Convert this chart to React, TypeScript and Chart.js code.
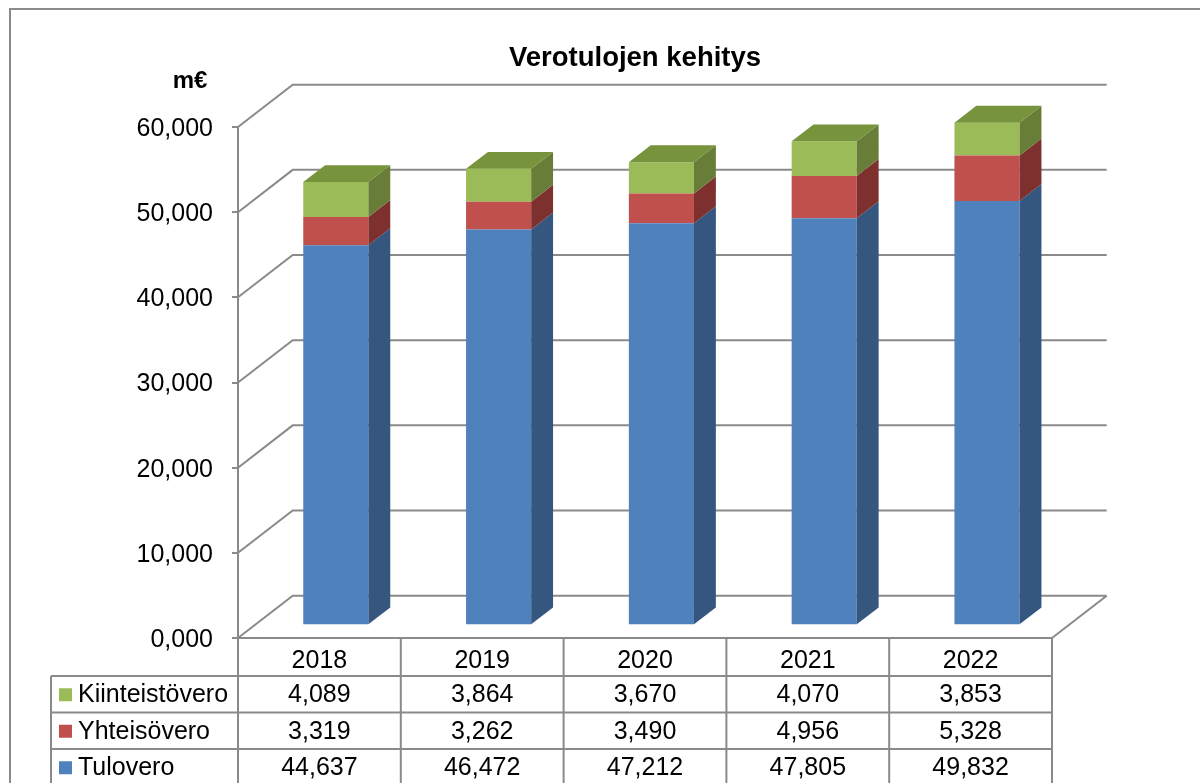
import React, { useEffect, useRef } from "react";
import { Chart, registerables } from "chart.js";

Chart.register(...registerables);

// ---- data ----
const categories = ["2018", "2019", "2020", "2021", "2022"];
const tulovero = [44.637, 46.472, 47.212, 47.805, 49.832];
const yhteisovero = [3.319, 3.262, 3.49, 4.956, 5.328];
const kiinteistovero = [4.089, 3.864, 3.67, 4.07, 3.853];
const seriesNames = ["Tulovero", "Yhteisövero", "Kiinteistövero"];
const yTicks = [0, 10, 20, 30, 40, 50, 60];
const chartTitle = "Verotulojen kehitys";
const unitLabel = "m€";

// ---- styles ----
const FONT = "'Liberation Sans', Arial, sans-serif";
const FRONT = ["#4F81BD", "#C0504D", "#9BBB59"];
const SIDE = ["#34567F", "#7D302E", "#687E38"];
const TOPC = ["#4270A8", "#A04340", "#77933C"];
const GRID = "#8a8a8a";
const DX = 54.7;
const DY = 42.3;
const BAR_FRONT = 0.3;
const BAR_DEPTH = 0.4;
const TEXT_SIZE = 25;

const fmt = (v: number) => v.toFixed(3).replace(".", ",");

const threeD = {
  id: "threeD",
  beforeDraw(chart: any) {
    const { ctx } = chart;
    ctx.save();
    ctx.fillStyle = "#fff";
    ctx.fillRect(0, 0, chart.width, chart.height);
    ctx.strokeStyle = GRID;
    ctx.lineWidth = 2;
    ctx.strokeRect(10, 9, chart.width + 100, chart.height + 100);
    ctx.fillStyle = "#000";
    ctx.textAlign = "center";
    ctx.textBaseline = "middle";
    ctx.font = `bold 27.5px ${FONT}`;
    ctx.fillText(chartTitle, 635, 58);
    ctx.font = `bold 24px ${FONT}`;
    ctx.fillText(unitLabel, 190, 81);
    ctx.restore();
  },
  beforeDatasetsDraw(chart: any) {
    const { ctx, chartArea: a } = chart;
    const y = chart.scales.y;
    ctx.save();
    ctx.strokeStyle = GRID;
    ctx.lineWidth = 2;
    ctx.beginPath();
    for (const v of yTicks) {
      const py = y.getPixelForValue(v);
      ctx.moveTo(a.left, py);
      ctx.lineTo(a.left + DX, py - DY);
      ctx.lineTo(a.right + DX, py - DY);
    }
    ctx.moveTo(a.right, a.bottom);
    ctx.lineTo(a.right + DX, a.bottom - DY);
    ctx.stroke();
    ctx.restore();
    ctx.save();
    ctx.translate(BAR_FRONT * DX, -BAR_FRONT * DY);
  },
  afterDatasetsDraw(chart: any) {
    const { ctx } = chart;
    ctx.restore();
    const ox = BAR_FRONT * DX;
    const oy = -BAR_FRONT * DY;
    const sx = BAR_DEPTH * DX;
    const sy = BAR_DEPTH * DY;
    const n = chart.data.datasets.length;
    ctx.save();
    chart.data.datasets.forEach((_ds: any, di: number) => {
      const meta = chart.getDatasetMeta(di);
      meta.data.forEach((bar: any) => {
        const { x, y, base, width } = bar.getProps(["x", "y", "base", "width"], true);
        const l = x - width / 2 + ox;
        const r = x + width / 2 + ox;
        const t = y + oy;
        const b = base + oy;
        ctx.fillStyle = SIDE[di];
        ctx.beginPath();
        ctx.moveTo(r, t);
        ctx.lineTo(r + sx, t - sy);
        ctx.lineTo(r + sx, b - sy);
        ctx.lineTo(r, b);
        ctx.closePath();
        ctx.fill();
        if (di === n - 1) {
          ctx.fillStyle = TOPC[di];
          ctx.beginPath();
          ctx.moveTo(l, t);
          ctx.lineTo(l + sx, t - sy);
          ctx.lineTo(r + sx, t - sy);
          ctx.lineTo(r, t);
          ctx.closePath();
          ctx.fill();
        }
      });
    });
    ctx.restore();
  },
  afterDraw(chart: any) {
    const { ctx, chartArea: a } = chart;
    const xs = chart.scales.x;
    const H = chart.height;
    const headerBottom = a.bottom + 38;
    const rowH = 36.5;
    const tableLeft = 51;
    const centers = categories.map((_c, i) => xs.getPixelForValue(i));
    const bounds = [a.left];
    for (let i = 0; i < centers.length - 1; i++) bounds.push((centers[i] + centers[i + 1]) / 2);
    bounds.push(a.right);

    ctx.save();
    ctx.strokeStyle = GRID;
    ctx.lineWidth = 2;
    ctx.beginPath();
    for (const bx of bounds) {
      ctx.moveTo(bx, a.bottom);
      ctx.lineTo(bx, H + 5);
    }
    ctx.moveTo(tableLeft, headerBottom);
    ctx.lineTo(tableLeft, H + 5);
    for (let r = 0; r < 3; r++) {
      const ry = headerBottom + r * rowH;
      ctx.moveTo(tableLeft, ry);
      ctx.lineTo(a.right, ry);
    }
    ctx.stroke();

    const rows = [
      { name: seriesNames[2], color: FRONT[2], data: kiinteistovero },
      { name: seriesNames[1], color: FRONT[1], data: yhteisovero },
      { name: seriesNames[0], color: FRONT[0], data: tulovero },
    ];
    ctx.font = `${TEXT_SIZE}px ${FONT}`;
    ctx.textBaseline = "middle";
    rows.forEach((row, ri) => {
      const cy = headerBottom + ri * rowH + rowH / 2 + 1;
      ctx.fillStyle = row.color;
      ctx.fillRect(59, cy - 7, 13, 13);
      ctx.fillStyle = "#000";
      ctx.textAlign = "left";
      ctx.fillText(row.name, 78, cy);
      ctx.textAlign = "center";
      row.data.forEach((v, i) => ctx.fillText(fmt(v), centers[i], cy));
    });
    ctx.restore();
  },
};

export default function App() {
  const ref = useRef<HTMLCanvasElement | null>(null);
  useEffect(() => {
    if (!ref.current) return;
    Chart.defaults.font.family = FONT;
    const chart = new Chart(ref.current, {
      type: "bar",
      data: {
        labels: categories,
        datasets: [
          { label: seriesNames[0], data: tulovero, backgroundColor: FRONT[0] },
          { label: seriesNames[1], data: yhteisovero, backgroundColor: FRONT[1] },
          { label: seriesNames[2], data: kiinteistovero, backgroundColor: FRONT[2] },
        ],
      },
      options: {
        responsive: false,
        animation: false,
        devicePixelRatio: 1,
        layout: { padding: { top: 127, right: 148, left: 0, bottom: 0 } },
        datasets: { bar: { categoryPercentage: 1, barPercentage: 0.4, borderWidth: 0, clip: false as any } },
        plugins: { legend: { display: false }, tooltip: { enabled: false }, title: { display: false } },
        scales: {
          x: {
            stacked: true,
            grid: { display: false, drawTicks: false },
            border: { display: true, color: GRID, width: 2 },
            ticks: { color: "#000", font: { size: TEXT_SIZE }, padding: 8 },
            afterFit: (s: any) => {
              s.height = 145;
            },
          },
          y: {
            stacked: true,
            min: 0,
            max: 60,
            ticks: {
              stepSize: 10,
              color: "#000",
              font: { size: TEXT_SIZE },
              padding: 19,
              labelOffset: 2,
              callback: (v: any) => fmt(Number(v)),
            },
            grid: { drawOnChartArea: false, drawTicks: true, tickLength: 6, color: GRID, lineWidth: 2 },
            border: { display: true, color: GRID, width: 2 },
            afterFit: (s: any) => {
              s.width = 238;
            },
          },
        },
      },
      plugins: [threeD],
    });
    return () => chart.destroy();
  }, []);
  return (
    <div style={{ position: "fixed", left: 0, top: 0, width: 1200, height: 783, background: "#fff" }}>
      <canvas ref={ref} width={1200} height={783} />
    </div>
  );
}
